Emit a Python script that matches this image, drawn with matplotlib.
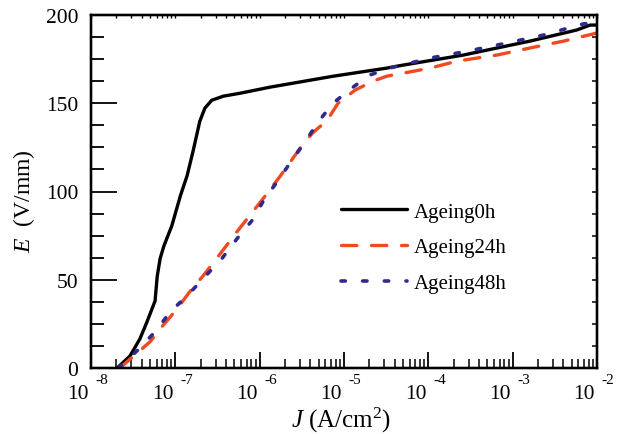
import matplotlib
matplotlib.use("Agg")
import matplotlib.pyplot as plt
import numpy as np

plt.rcParams['font.family'] = ['Liberation Serif', 'DejaVu Serif']
plt.rcParams['mathtext.fontset'] = 'custom'
plt.rcParams['mathtext.rm'] = 'Liberation Serif'
plt.rcParams['mathtext.it'] = 'Liberation Serif:italic'

# E-J curves
j_0h = [2.04e-8, 2.9e-8, 3.8e-8, 4.6e-8, 5.75e-8, 6.1e-8, 6.6e-8, 7.3e-8, 9.1e-8, 1.15e-7,
        1.38e-7, 1.62e-7, 1.95e-7, 2.24e-7, 2.7e-7, 3.7e-7, 5.9e-7, 1.32e-6, 7.4e-6,
        3.2e-5, 5.0e-5, 2.6e-4, 1.6e-3, 5.75e-3, 8.3e-3, 1.0e-2]
e_0h = [0, 6.8, 16.5, 26, 38, 52, 62, 69, 80.7, 97.7,
        109, 122.7, 139.8, 147.2, 151.7, 154, 155.7, 159.1, 165.3,
        169.9, 171.6, 177.3, 185.2, 191.5, 194.3, 194.3]

j_24h = [2.2e-8, 5.0e-8, 6.9e-8, 1.05e-7, 1.48e-7, 2.14e-7, 2.95e-7, 5.5e-7, 8.3e-7,
         1.1e-6, 1.74e-6, 3.0e-6, 4.2e-6, 6.3e-6, 8.5e-6, 1.35e-5, 2.2e-5, 3.2e-5,
         1.05e-4, 2.2e-4, 6.5e-4, 1.6e-3, 4.0e-3, 1.0e-2]
e_24h = [0, 14.8, 23.3, 33.5, 43.2, 52.3, 60.8, 77.8, 88.6,
         96, 108.5, 124.4, 133, 140.3, 150, 157.4, 162.5, 165.3,
         169.9, 173.9, 177.3, 181.3, 185.2, 189.8]

j_48h = [2.1e-8, 3.6e-8, 5.75e-8, 8.7e-8, 1.38e-7, 2.24e-7, 3.55e-7, 5.4e-7, 8.1e-7,
         1.15e-6, 1.66e-6, 2.4e-6, 3.5e-6, 4.8e-6, 7.4e-6, 1.23e-5, 2.0e-5, 3.5e-5,
         6.0e-5, 1.05e-4, 2.9e-4, 8.5e-4, 2.3e-3, 6.8e-3, 8.3e-3]
e_48h = [0, 10.2, 20.5, 31.8, 40.9, 51.7, 61.9, 73.3, 83.5,
         96, 106.3, 117.6, 128.4, 138.6, 150, 158.5, 165.9, 170,
         172.7, 175.6, 179.5, 184.1, 188.6, 194.9, 195.4]

decades = [-8, -7, -6, -5, -4, -3, -2]

fig = plt.figure(figsize=(6.28, 4.35), dpi=100)
ax = fig.add_axes([91 / 628, 1 - 369 / 435, 506 / 628, 353 / 435])

ax.plot(j_0h, e_0h, color='black', lw=2.4, label='Ageing0h', solid_capstyle='round')
ax.plot(j_24h, e_24h, color='#F04A23', lw=2.4, linestyle=(0, (4.6, 4.4)),
        dash_capstyle='round', label='Ageing24h')
ax.plot(j_48h, e_48h, color='#2E2A8F', lw=2.6, linestyle=(0, (1.2, 4.8)),
        dash_capstyle='round', label='Ageing48h')

ax.set_xscale('log')
ax.set_xlim(1e-8, 1e-2)
ax.set_ylim(0, 200)

ax.set_yticks(np.arange(0, 201, 50))
ax.set_yticks(np.arange(0, 201, 12.5), minor=True)
ax.xaxis.set_major_locator(matplotlib.ticker.LogLocator(base=10, numticks=20))
ax.xaxis.set_minor_locator(matplotlib.ticker.LogLocator(base=10, subs=np.arange(2, 10), numticks=20))
ax.xaxis.set_minor_formatter(matplotlib.ticker.NullFormatter())
ax.set_xticklabels([])

for s in ax.spines.values():
    s.set_linewidth(1.6)

ax.tick_params(axis='y', which='major', direction='in', length=18.5, width=1.3,
               labelsize=15.5, pad=9)
ax.tick_params(axis='y', which='minor', direction='in', length=9.5, width=1.3)
ax.tick_params(axis='x', which='major', direction='in', length=11.5, width=1.3)
ax.tick_params(axis='x', which='minor', direction='in', length=6.5, width=1.1)

# short ticks on the top and right edges
axr = ax.twinx()
axr.set_ylim(0, 200)
axr.set_yticks(np.arange(0, 201, 12.5))
axr.set_yticklabels([])
axr.tick_params(axis='y', which='both', direction='in', length=3.5, width=1.1)
axt = ax.twiny()
axt.set_xscale('log')
axt.set_xlim(1e-8, 1e-2)
axt.xaxis.set_major_locator(matplotlib.ticker.LogLocator(base=10, numticks=20))
axt.xaxis.set_minor_locator(matplotlib.ticker.LogLocator(base=10, subs=np.arange(2, 10), numticks=20))
axt.set_xticklabels([])
axt.xaxis.set_minor_formatter(matplotlib.ticker.NullFormatter())
axt.tick_params(axis='x', which='both', direction='in', length=2.5, width=1.0)
for a in (axr, axt):
    for s in a.spines.values():
        s.set_linewidth(1.6)

# decade labels written as "10" with a raised exponent
for d in decades:
    ax.annotate('10', xy=(10.0 ** d, 0), xycoords=('data', 'axes fraction'),
                xytext=(-1.5, -18.5), textcoords='offset points',
                ha='right', va='center', fontsize=15.5, annotation_clip=False)
    ax.annotate(str(d), xy=(10.0 ** d, 0), xycoords=('data', 'axes fraction'),
                xytext=(3.5, -8.5), textcoords='offset points',
                ha='left', va='center', fontsize=11, annotation_clip=False)

ax.set_ylabel('$E$  (V/mm)', fontsize=17)
ax.yaxis.set_label_coords(-0.107, 0.476)
ax.set_xlabel('$J$ (A/cm$^2$)', fontsize=18)
ax.xaxis.set_label_coords(0.495, -0.104)

ax.legend(loc='upper left', bbox_to_anchor=(341 / 628, 1 - 203 / 435),
          bbox_transform=fig.transFigure, frameon=False, fontsize=15,
          handlelength=3.15, handletextpad=0.35, labelspacing=0.78,
          borderpad=0, borderaxespad=0)

fig.savefig('out.png', dpi=100)
